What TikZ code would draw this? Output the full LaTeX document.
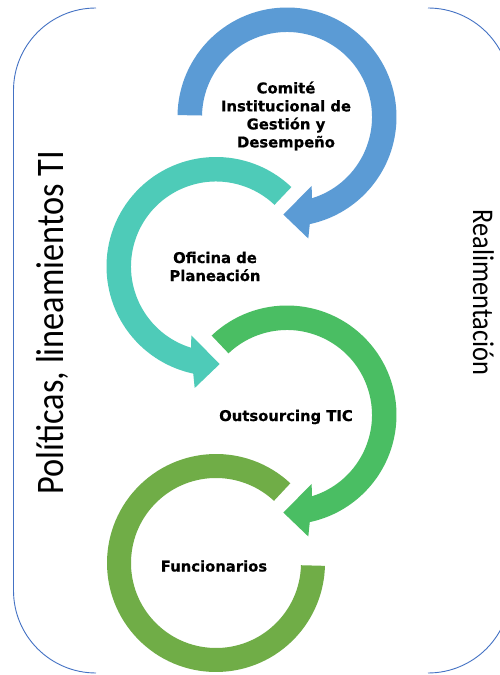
\documentclass[tikz,border=0pt]{standalone}
\usepackage{fontspec}
\newfontfamily\lblfont[BoldFeatures={FakeBold=0.6}]{DejaVu Sans}
\newfontfamily\sidefont[FakeStretch=0.88]{Carlito}
\definecolor{ringA}{HTML}{5B9BD5}
\definecolor{ringB}{HTML}{4ECBB8}
\definecolor{ringC}{HTML}{4ABE63}
\definecolor{ringD}{HTML}{70AD47}
\definecolor{framecol}{HTML}{4472C4}
\begin{document}
\begin{tikzpicture}[x=1pt,y=1pt,
  lbl/.style={align=center,inner sep=0pt,text=black,font=\lblfont\bfseries\fontsize{14.8}{18}\selectfont},
  side/.style={inner sep=0pt,text=black,anchor=base},
  framestyle/.style={draw=framecol,line width=0.9pt}]
\useasboundingbox (0,0) rectangle (500,675);
\clip (0,0) rectangle (500,675);
\fill[white] (0,0) rectangle (500,675);
% frame brackets
\draw[framestyle] (96,667) arc[start angle=90,end angle=180,radius=82.5] -- (13.5,84.5) arc[start angle=180,end angle=270,radius=82.5];
\draw[framestyle] (428,667) arc[start angle=90,end angle=0,radius=82.5] -- (510.5,84.5) arc[start angle=0,end angle=-90,radius=82.5];
% ring 1 (blue)
\begin{scope}[shift={(287,558)}]
\fill[ringA] (179:109.5) arc[start angle=179,end angle=-78,radius=109.5] -- (21.3,-121.5) -- (-3.7,-97.5) -- (24.7,-69) -- (-73:85) arc[start angle=-73,end angle=179,radius=85] -- cycle;
\end{scope}
% ring 2 (teal)
\begin{scope}[shift={(216,408.5)}]
\fill[ringB] (46.5:109.5) arc[start angle=46.5,end angle=258,radius=109.5] -- (-21.3,-121.5) -- (3.7,-97.5) -- (-24.7,-69) -- (253:85) arc[start angle=253,end angle=46.5,radius=85] -- cycle;
\end{scope}
% ring 3 (green)
\begin{scope}[shift={(287,260)}]
\fill[ringC] (133.5:109.5) arc[start angle=133.5,end angle=-78,radius=109.5] -- (21.3,-121.5) -- (-3.7,-97.5) -- (24.7,-69) -- (-73:85) arc[start angle=-73,end angle=133.5,radius=85] -- cycle;
\end{scope}
% ring 4 (olive)
\begin{scope}[shift={(216,112)}]
\fill[ringD] (47:109) arc[start angle=47,end angle=358.5,radius=109] -- (358.5:85) arc[start angle=358.5,end angle=47,radius=85] -- cycle;
\end{scope}
% labels
\node[lbl] (comite) at (286,559) {Comité\\Institucional de\\Gestión y\\Desempeño};
\node[lbl] (oficina) at (215,408.5) {Oficina de\\Planeación};
\node[lbl] (outs) at (286,258) {Outsourcing TIC};
\node[lbl] (func) at (214,109) {Funcionarios};
% side texts
\node[side,rotate=90,font=\sidefont\fontsize{39}{41}\selectfont] (politicas) at (63,352.5) {Políticas, lineamientos TI};
\node[side,rotate=-90,font=\sidefont\fontsize{30}{32}\selectfont] (realim) at (473,382.5) {Realimentación};
\end{tikzpicture}
\end{document}
